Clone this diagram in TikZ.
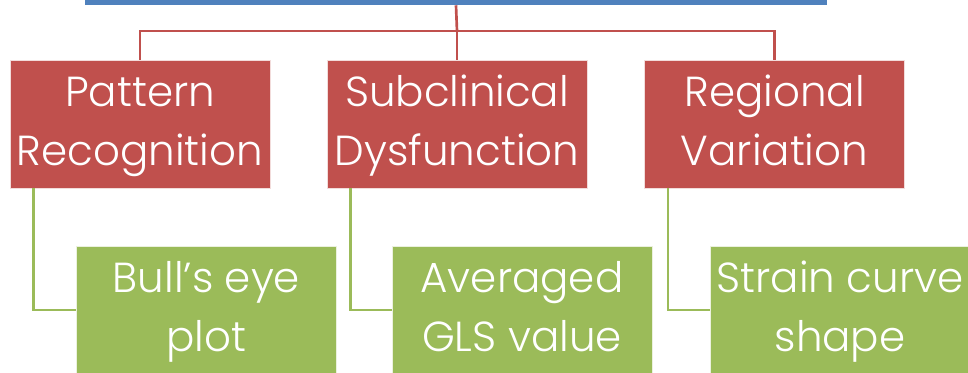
\documentclass[tikz,border=0pt]{standalone}
\usepackage{fontspec}
\setmainfont{Poppins}[UprightFont=* Light]
\definecolor{barblue}{HTML}{4F81BD}
\definecolor{catred}{HTML}{C0504D}
\definecolor{leafgreen}{HTML}{9BBB59}
\tikzset{
  catbox/.style={fill=catred, draw=white!80!catred, line width=0.6pt, text=white,
    minimum width=195pt, minimum height=96pt, inner sep=0pt, align=center,
    font=\fontsize{31.5}{44}\selectfont},
  leafbox/.style={catbox, fill=leafgreen, draw=white!80!leafgreen},
  redline/.style={catred, line width=2pt},
  greenline/.style={leafgreen, line width=2pt}
}
\begin{document}
\begin{tikzpicture}[x=0.75pt,y=-0.75pt]
    \useasboundingbox (0,0) rectangle (968,372);

    % Top bar (cut off by the page edge)
    \node[fill=barblue, minimum width=556.5pt, minimum height=15pt, inner sep=0pt] (root) at (456,-5) {};

    % Category boxes
    \node[catbox] (pattern) at (140,124) {\strut Pattern\\\strut Recognition};
    \node[catbox] (subclin) at (457,124) {\strut Subclinical\\\strut Dysfunction};
    \node[catbox] (region) at (774.5,124) {\strut Regional\\\strut Variation};

    % Detail boxes
    \node[leafbox] (bulls) at (206.5,310) {\strut Bull’s eye\\\strut plot};
    \node[leafbox] (gls) at (522,310) {\strut Averaged\\\strut GLS value};
    \node[leafbox] (curve) at (840,310) {\strut Strain curve\\\strut shape};

    % Red connectors
    \coordinate (bus) at (457,31);
    \draw[redline] (root.south) -- (bus);
    \draw[redline] (pattern.north) |- (bus) -| (region.north);
    \draw[redline] (bus) -- (subclin.north);

    % Green connectors
    \draw[greenline] ([xshift=18pt]pattern.south west) |- (bulls.west);
    \draw[greenline] ([xshift=18pt]subclin.south west) |- (gls.west);
    \draw[greenline] ([xshift=18pt]region.south west) |- (curve.west);
\end{tikzpicture}
\end{document}
